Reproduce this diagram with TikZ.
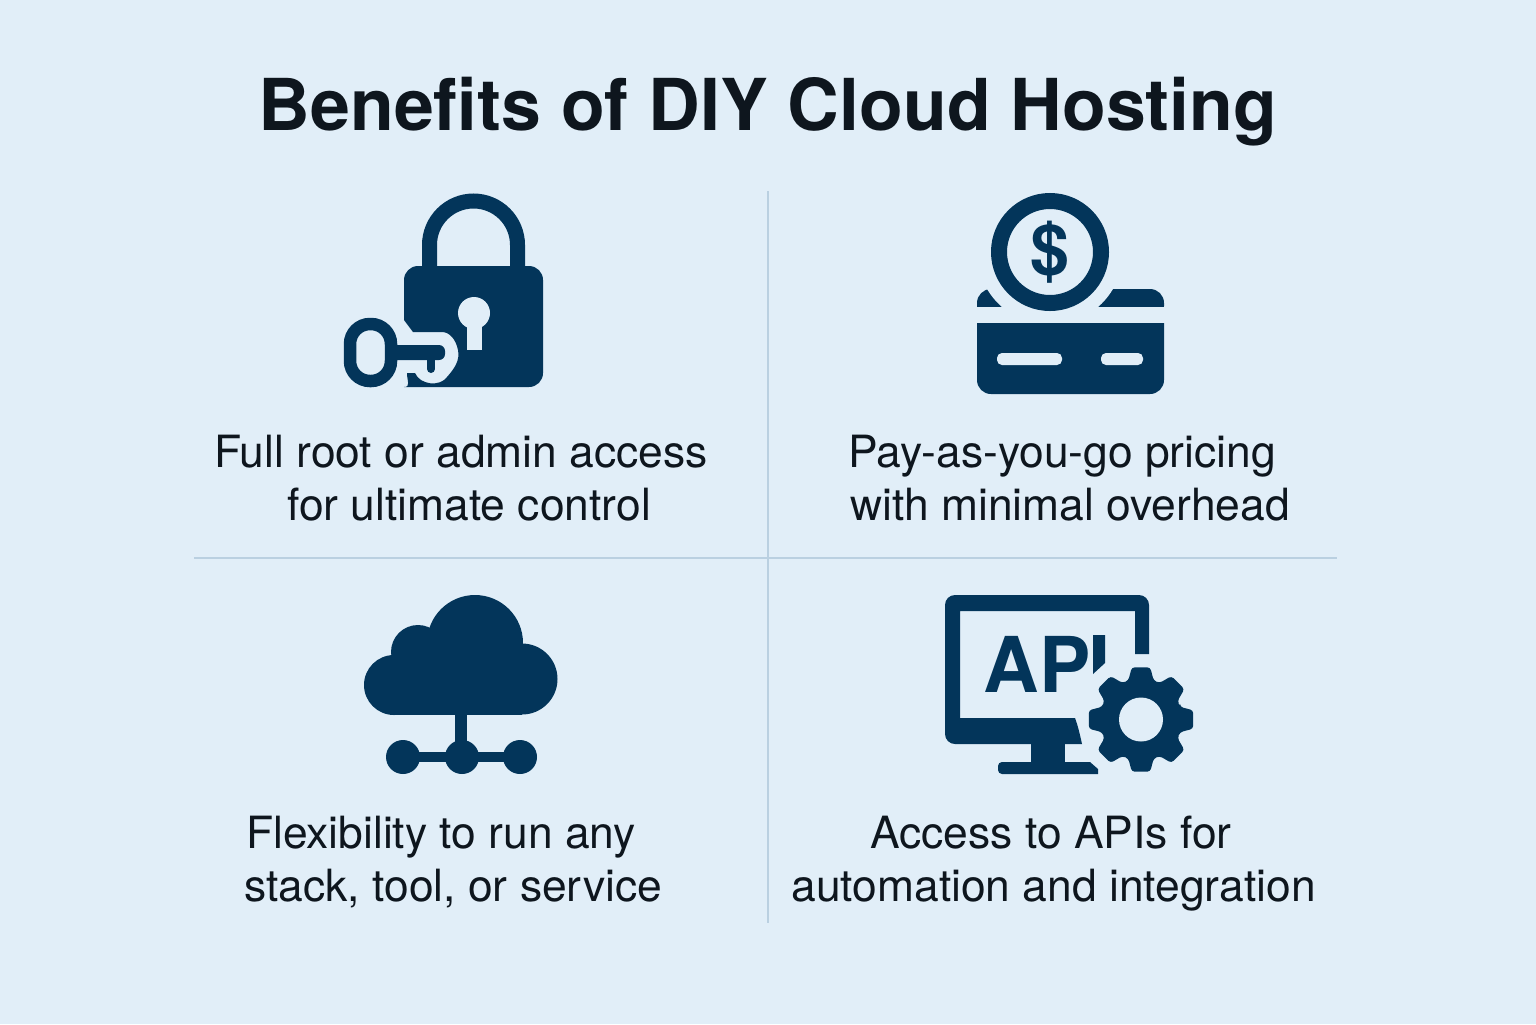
\documentclass[tikz,border=0pt]{standalone}
\usepackage{fontspec}
\setmainfont{TeX Gyre Heros}
\definecolor{mybg}{RGB}{225, 238, 248}
\definecolor{mynavy}{RGB}{3, 53, 90}
\definecolor{myline}{RGB}{186, 208, 225}
\definecolor{myink}{RGB}{14, 22, 30}
\tikzset{captxt/.style={anchor=base, inner sep=0pt, text=myink, font=\fontsize{22.2pt}{26pt}\selectfont},
  divider/.style={myline, line width=1pt}}

\begin{document}
\begin{tikzpicture}[x=0.5pt, y=-0.5pt]
\fill[mybg] (0,0) rectangle (1536,1024);
\node[anchor=base, inner sep=0pt, text=myink, font=\fontsize{35.8pt}{40pt}\selectfont\bfseries] (title) at (768,130) {Benefits of DIY Cloud Hosting};

% dividers
\coordinate (vtop) at (768,191);
\coordinate (vbot) at (768,923);
\coordinate (hleft) at (194,558);
\coordinate (hright) at (1337,558);
\draw[divider] (vtop) -- (vbot);
\draw[divider] (hleft) -- (hright);

% lock and key
\draw[mynavy, line width=7.5pt] (429.5,270) -- (429.5,245) arc [radius = 44, start angle = 180, end angle = 360] -- (517.5,270);
\fill[mynavy] (404,295) [rounded corners=7pt] -- (404,266) -- (543,266) -- (543,387) -- (418,387) [sharp corners]
..controls (411,387) and (407,381).. (407,373) -- (415,373)
..controls (420,385) and (440,387).. (447,377)
..controls (455,368) and (460,360).. (458,350)
..controls (456,340) and (450,332).. (442,332) -- (413,332) -- (404,320) -- cycle;
\fill[mybg] (474,313) circle [radius = 16];
\fill[mybg] (467,318) rectangle (482,350);
\draw[mynavy, line width=6.25pt, rounded corners=10pt] (350,324) rectangle (391,381);
\fill[mynavy, rounded corners=3pt] (385,345) rectangle (445,360);
\draw[mynavy, line width=4pt, line cap=round] (431,358) -- (431,369);

% coin and card
\fill[mynavy, rounded corners=7pt] (977,320) -- (977,289) -- (1164,289) -- (1164,320) -- cycle;
\fill[mybg] (1050,252) circle [radius = 73];
\fill[mybg] (970,307) rectangle (1170,323);
\fill[mynavy] (977,323) -- (1164,323) [rounded corners=7pt] -- (1164,394) -- (977,394) [sharp corners] -- cycle;
\fill[mybg, rounded corners=2.5pt] (997,353) rectangle (1062,365);
\fill[mybg, rounded corners=2.5pt] (1101,353) rectangle (1143,365);
\draw[mynavy, line width=8pt] (1050,252) circle [radius = 51];
\node[text=mynavy, inner sep=0pt, font=\fontsize{35pt}{35pt}\selectfont\bfseries] (dollar) at (1050,252) {\$};

% cloud and network
\fill[mynavy] (394,685) circle [radius = 30];
\fill[mynavy] (418,652) circle [radius = 27];
\fill[mynavy] (475,643) circle [radius = 48];
\fill[mynavy] (522,679) circle [radius = 35.5];
\fill[mynavy] (394,670) rectangle (522,714.5);
\fill[mynavy] (455,710) rectangle (467,745);
\fill[mynavy] (403,752) rectangle (520,762);
\foreach \x in {403,462,520} {
  \fill[mynavy] (\x,757) circle [radius = 17];
}

% monitor
\fill[mynavy] (1149,654) [rounded corners=5pt] -- (1149,595) -- (945,595) -- (945,744) [sharp corners] -- (1082,744)
..controls (1080,735) and (1078,726).. (1075,718) -- (960,718) -- (960,611) -- (1135,611) -- (1135,654) -- cycle;
\fill[mynavy] (1031,744) rectangle (1065,764);
\fill[mynavy] (1003,762) -- (1090,762) -- (1098,769) -- (1098,774) -- (1003,774) [rounded corners=2pt] -- (998,774) -- (998,762) [sharp corners] -- cycle;
\node[anchor=base west, inner sep=0pt, text=mynavy, font=\fontsize{38.5pt}{40pt}\selectfont\bfseries] (api) at (983,692) {AP};
\fill[mynavy] (1093,635) -- (1105,635) -- (1105,663) -- (1093,674) -- cycle;

% gear
\begin{scope}[shift={(1141,719.5)}]
\fill[mynavy, rounded corners=1.5pt] (-18:41) \foreach \a in {0,45,...,315} {
  -- (\a-18:41) -- (\a-10:53) -- (\a+10:53) -- (\a+18:41)
} -- cycle;
\fill[mybg] (0,0) circle [radius = 22];
\end{scope}

% captions
\node[captxt] (full) at (461,467.5) {Full root or admin access};
\node[captxt] (ultimate) at (469,520.5) {for ultimate control};
\node[captxt] (pay) at (1062,467.5) {Pay-as-you-go pricing};
\node[captxt] (minimal) at (1070,520.5) {with minimal overhead};
\node[captxt] (flex) at (441,848.5) {Flexibility to run any};
\node[captxt] (stack) at (453,901.5) {stack, tool, or service};
\node[captxt] (access) at (1051,848.5) {Access to APIs for};
\node[captxt] (auto) at (1053.5,901.5) {automation and integration};
\end{tikzpicture}
\end{document}
